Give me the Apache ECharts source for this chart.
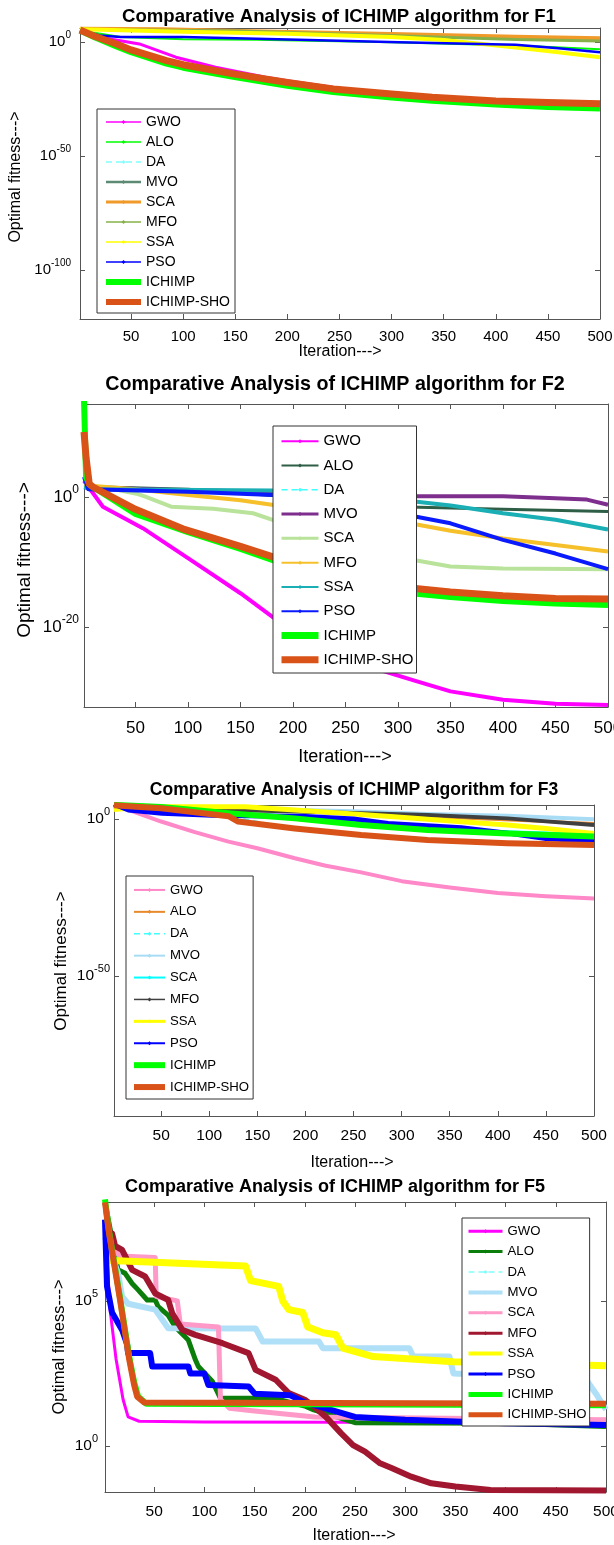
<!DOCTYPE html>
<html>
<head>
<meta charset="utf-8">
<title>Comparative Analysis of ICHIMP algorithm</title>
<script src="https://cdn.jsdelivr.net/npm/echarts@6/dist/echarts.min.js"></script>
<style>
  body { margin: 0; background: #fff; }
  .panel { position: absolute; left: 0; top: 0; width: 614px; height: 1545px; }
</style>
</head>
<body>
<div id="f1" class="panel"></div>
<div id="f2" class="panel"></div>
<div id="f3" class="panel"></div>
<div id="f5" class="panel"></div>
<script>
  const algoNames = ['GWO', 'ALO', 'DA', 'MVO', 'SCA', 'MFO', 'SSA', 'PSO', 'ICHIMP', 'ICHIMP-SHO']
  const iterTicks = [50, 100, 150, 200, 250, 300, 350, 400, 450, 500]

  // every curve point is [iteration, log10(optimal fitness)]

  // ---- F1 ----
  const f1Ticks = [-100, -50, 0]
  const f1GWO = [[1, 5.2], [20, 2], [58, -0.9], [93, -6.7], [131, -11.1], [179, -15.5], [200, -17], [250, -20.3], [300, -22.8], [350, -24.5], [400, -25.8], [450, -26.5], [500, -27]]
  const f1ALO = [[1, 5], [40, 2.2], [100, 1.2], [170, 0.9], [300, -0.2], [419, -1.6], [500, -3.2]]
  const f1DA = [[1, 5.6], [100, 5.4], [200, 4.4], [300, 3.3], [400, 2.4], [500, 1.7]]
  const f1MVO = [[1, 5.5], [100, 5.3], [200, 4.3], [300, 3.2], [400, 2.3], [500, 1.6]]
  const f1SCA = [[1, 5.8], [80, 5.6], [166, 4.7], [300, 3.5], [419, 2.3], [500, 1.6]]
  const f1MFO = [[1, 5.5], [150, 4.8], [250, 3.5], [350, 2], [419, 1.1], [500, 0.4]]
  const f1SSA = [[1, 5.6], [100, 4.5], [200, 3.6], [300, 2.2], [350, 0.8], [419, -2.5], [460, -4.5], [500, -6.7]]
  const f1PSO = [[1, 5], [20, 2.8], [40, 2.2], [100, 2.1], [211, 0.9], [307, -0.15], [419, -1.2], [460, -2.8], [500, -4.5]]
  const f1ICHIMP = [[1, 5], [15, 2], [36, -2], [50, -4.5], [84, -9.5], [100, -11.3], [148, -15.3], [200, -19.2], [244, -22], [300, -24.4], [339, -25.8], [400, -27.5], [450, -28.5], [500, -29.2]]
  const f1SHO = [[1, 5.2], [15, 2.5], [36, -0.9], [50, -3.5], [84, -8.2], [100, -10], [148, -14], [200, -17.8], [244, -20.6], [300, -22.8], [339, -24.3], [400, -25.9], [450, -26.6], [500, -27.1]]

  // ---- F2 ----
  const f2Ticks = [-20, 0]
  const f2GWO = [[1, 2.5], [19, -1.5], [57, -4.8], [100, -9.4], [150, -14.8], [200, -20.8], [250, -25], [315, -28.2], [350, -29.9], [400, -31.2], [450, -31.8], [500, -32]]
  const f2ALO = [[1, 1.6], [100, 1.2], [200, 0], [300, -1.5], [400, -1.9], [500, -2.25]]
  const f2DA = [[1, 1.8], [50, -1.9], [100, -5], [200, -10.2], [300, -13.8], [400, -15.2], [500, -15.7]]
  const f2MVO = [[1, 1.5], [100, 1], [200, 0.8], [300, 0.1], [400, 0.1], [450, -0.2], [480, -0.4], [500, -1.2]]
  const f2SCA = [[1, 1.9], [30, 1.2], [51, 0.5], [60, 0], [84, -1.5], [124, -1.8], [162, -2.5], [182, -3.6], [250, -7], [315, -9.7], [350, -10.7], [400, -11], [500, -11.1]]
  const f2MFO = [[1, 1.8], [50, 1.2], [100, 0.3], [150, -0.5], [193, -1.5], [250, -2.8], [310, -4], [350, -5.2], [400, -6.4], [450, -7.4], [500, -8.4]]
  const f2SSA = [[1, 1.5], [10, 1.2], [180, 1.0], [250, 0.5], [305, -0.5], [350, -1.3], [400, -2.5], [450, -3.5], [500, -5]]
  const f2PSO = [[1, 3.1], [5, 1.2], [100, 0.8], [200, 0.2], [260, -1.0], [310, -2.8], [350, -4.05], [400, -6.6], [450, -8.7], [500, -11.1]]
  const f2ICHIMP = [[1, 15], [3, 3], [7, 1.8], [50, -2.6], [100, -5.4], [150, -8], [200, -10.8], [250, -12.9], [300, -14.6], [350, -15.4], [400, -16], [450, -16.4], [500, -16.6]]
  const f2SHO = [[1, 10], [3, 6], [6, 2], [10, 1.5], [50, -1.9], [95, -4.9], [150, -7.6], [200, -10.2], [250, -12.2], [300, -13.8], [350, -14.6], [400, -15.2], [450, -15.6], [500, -15.7]]

  // ---- F3 ----
  const f3Ticks = [-50, 0]
  const f3GWO = [[1, 4], [16, 2.9], [50, -0.8], [85, -4.2], [120, -7.2], [150, -9.3], [189, -12.5], [220, -14.8], [258, -17], [300, -19.8], [350, -21.8], [400, -23.6], [450, -24.6], [500, -25.3]]
  const f3ALO = [[1, 4.4], [200, 2.3], [350, 0.5], [450, -0.8], [500, -1.4]]
  const f3DA = [[1, 4.4], [50, 3.4], [120, 0.9], [189, -3], [258, -5.1], [327, -6.7], [410, -7.7], [500, -8.3]]
  const f3MVO = [[1, 4.3], [100, 3.5], [250, 2.5], [327, 1.6], [410, 1.0], [500, -0.1]]
  const f3SCA = [[1, 4.4], [200, 0.5], [300, -2.5], [400, -4], [500, -4.9]]
  const f3MFO = [[1, 4.2], [100, 3], [200, 2.3], [327, 1.3], [410, 0.2], [500, -1.9]]
  const f3SSA = [[1, 3], [33, 3.9], [137, 3.9], [189, 2.9], [292, 0.7], [362, -0.9], [410, -1.9], [450, -3], [500, -4.6]]
  const f3PSO = [[1, 4.7], [16, 2.9], [51, 1.8], [103, 1.2], [200, 0.8], [250, 0], [286, -1.4], [362, -2.8], [410, -4.5], [450, -6.2], [500, -7.2]]
  const f3ICHIMP = [[1, 4.5], [50, 3.8], [120, 1.8], [189, 0.2], [258, -1.9], [327, -3.5], [410, -4.6], [500, -5.6]]
  const f3SHO = [[1, 4.4], [20, 4], [50, 3.4], [120, 0.9], [130, -0.8], [189, -3], [258, -5.1], [327, -6.7], [410, -7.7], [500, -8.3]]

  // ---- F5 ----
  const f5Ticks = [0, 5]
  const f5GWO = [[1, 8.3], [3, 6.5], [6, 4.7], [12, 3.0], [19, 1.6], [24, 1.0], [35, 0.85], [100, 0.82], [500, 0.8]]
  const f5ALO = [[1, 8.4], [14, 6.07], [21, 5.95], [28, 5.6], [34, 5.38], [43, 5.03], [51, 5.03], [54, 4.8], [64, 4.5], [71, 4.1], [84, 3.65], [91, 2.97], [94, 2.74], [108, 2.22], [116, 1.64], [170, 1.64], [201, 1.36], [209, 1.24], [250, 0.8], [400, 0.78], [500, 0.67]]
  const f5DA = [[1, 8.4], [16, 5.03], [33, 1.7], [40, 1.5], [500, 1.45]]
  const f5MVO = [[1, 7.2], [14, 5.95], [18, 5.15], [24, 4.9], [51, 4.7], [64, 4.06], [151, 4.05], [158, 3.6], [214, 3.6], [218, 3.37], [304, 3.37], [308, 3.08], [344, 3.08], [348, 2.5], [480, 2.3], [490, 1.8], [500, 1.25]]
  const f5SCA = [[1, 7.5], [15, 6.55], [51, 6.5], [52, 5.15], [73, 5.0], [76, 4.2], [114, 4.1], [116, 1.6], [125, 1.3], [150, 1.2], [210, 1.0], [500, 0.9]]
  const f5MFO = [[1, 7.45], [8, 7.33], [11, 6.9], [18, 6.76], [28, 6.07], [41, 5.84], [51, 5.26], [64, 5.03], [68, 4.57], [78, 4.0], [91, 3.83], [118, 3.54], [144, 3.2], [151, 2.62], [171, 2.28], [184, 1.82], [200, 1.59], [209, 1.36], [221, 1.0], [236, 0.44], [248, 0.03], [260, -0.2], [275, -0.6], [287, -0.77], [306, -1.06], [326, -1.29], [350, -1.4], [385, -1.52], [500, -1.54]]
  const f5SSA = [[1, 6.4], [141, 6.2], [146, 5.7], [174, 5.5], [178, 5.0], [184, 4.7], [198, 4.6], [203, 4.1], [218, 3.9], [231, 3.83], [238, 3.37], [268, 3.08], [348, 2.9], [414, 2.85], [500, 2.76]]
  const f5PSO = [[1, 7.8], [3, 5.5], [8, 4.6], [18, 4.0], [23, 3.5], [24, 3.2], [46, 3.2], [48, 2.74], [84, 2.74], [86, 2.5], [100, 2.5], [104, 2.1], [144, 2.05], [150, 1.8], [185, 1.75], [200, 1.5], [220, 1.3], [250, 1.0], [300, 0.9], [400, 0.78], [500, 0.72]]
  const f5ICHIMP = [[1, 8.5], [5, 7.4], [16, 5.1], [25, 3.1], [30, 2.2], [34, 1.7], [42, 1.45], [500, 1.4]]
  const f5SHO = [[1, 8.4], [5, 7.33], [16, 5.03], [25, 3.0], [30, 2.1], [33, 1.7], [40, 1.5], [500, 1.45]]

  const FONT = '"Liberation Sans", Arial, sans-serif'

  // page layout of the four panels (pixels), colours and line widths
  const panels = [
    {
      id: 'f1', title: 'Comparative Analysis of ICHIMP algorithm for F1',
      grid: [80, 28, 520, 291], yRange: [-121.5, 6.1], yTicks: f1Ticks,
      curves: [f1GWO, f1ALO, f1DA, f1MVO, f1SCA, f1MFO, f1SSA, f1PSO, f1ICHIMP, f1SHO],
      colors: ['#ff00ff', '#00ff00', '#80ffff', '#5c8a72', '#f09a2a', '#86b04a', '#ffff00', '#0000ff', '#00ff00', '#d95319'],
      widths: [3, 2, 1.5, 2, 4, 3, 4, 2.5, 6, 7],
      legendWidths: [1.5, 1.5, 1.5, 2.5, 3, 1.5, 1.5, 1.5, 6, 6],
      titlePos: [339, 17, 18.6], xName: [340, 352, 16], yName: [16, 177, 16],
      tickFont: 15, xMargin: 10, yMargin: 9,
      legend: { left: 97, top: 109, font: 14, itemWidth: 35, step: 20, padding: [3, 5, 1, 6] }
    },
    {
      id: 'f2', title: 'Comparative Analysis of ICHIMP algorithm for F2',
      grid: [84, 404, 524, 303], yRange: [-32.3, 14.3], yTicks: f2Ticks,
      curves: [f2GWO, f2ALO, f2DA, f2MVO, f2SCA, f2MFO, f2SSA, f2PSO, f2ICHIMP, f2SHO],
      colors: ['#ff00ff', '#2e5e46', '#40ffff', '#7e2f8e', '#b9e39a', '#f5c02a', '#1aaeb5', '#0a1aff', '#00ff00', '#d95319'],
      widths: [4, 3, 1.5, 4, 4, 4, 4, 4, 6, 7],
      legendWidths: [2, 2, 1.5, 3, 3, 2, 2, 2, 7, 7],
      titlePos: [335, 385, 19.7], xName: [345, 757, 18], yName: [25, 560, 19],
      tickFont: 17, xMargin: 13, yMargin: 5,
      legend: { left: 273, top: 426, font: 15, itemWidth: 37, step: 24.3, padding: [3, 3, 1, 5] }
    },
    {
      id: 'f3', title: 'Comparative Analysis of ICHIMP algorithm for F3',
      grid: [114, 805, 480, 311], yRange: [-94.6, 4.46], yTicks: f3Ticks,
      curves: [f3GWO, f3ALO, f3DA, f3MVO, f3SCA, f3MFO, f3SSA, f3PSO, f3ICHIMP, f3SHO],
      colors: ['#ff88c8', '#e8892c', '#40ffff', '#a8dcf5', '#00ffff', '#404040', '#ffff00', '#0000ff', '#00ff00', '#d95319'],
      widths: [4, 3, 1.5, 4, 3, 4, 5, 5, 6, 6],
      legendWidths: [2, 2, 1.5, 2, 2, 1.5, 3, 2, 6, 6],
      titlePos: [354, 790, 17.5], xName: [352, 1163, 16], yName: [61, 961, 17],
      tickFont: 15.5, xMargin: 12, yMargin: 4,
      legend: { left: 126, top: 876, font: 13.2, itemWidth: 31, step: 21.9, padding: [3, 4, 1, 5] }
    },
    {
      id: 'f5', title: 'Comparative Analysis of ICHIMP algorithm for F5',
      grid: [105, 1202, 501, 290], yRange: [-1.59, 8.41], yTicks: f5Ticks,
      curves: [f5GWO, f5ALO, f5DA, f5MVO, f5SCA, f5MFO, f5SSA, f5PSO, f5ICHIMP, f5SHO],
      colors: ['#ff00ff', '#0a7d0a', '#80ffff', '#b0e0f8', '#ff99c8', '#a0172f', '#ffff00', '#0000ff', '#00ff00', '#d95319'],
      widths: [3, 5, 1.5, 6, 5, 6, 7, 6, 6, 6],
      legendWidths: [3, 3, 1.5, 4, 3, 3, 4, 3, 5, 5],
      titlePos: [335, 1187, 18], xName: [354, 1536, 16], yName: [59, 1347, 16.5],
      tickFont: 15.5, xMargin: 12, yMargin: 7,
      legend: { left: 462, top: 1218, font: 13.2, itemWidth: 34, step: 20.4, padding: [3, 3, 1, 4] }
    }
  ]

  const axisColor = '#555'

  function buildOption (p) {
    const [gl, gt, gw, gh] = p.grid
    const supSize = Math.round(p.tickFont * 0.68)
    const tickStyle = { color: axisColor, width: 1 }
    const xAxisBase = {
      type: 'value', min: 1, max: 500,
      axisLine: { show: true, onZero: false, lineStyle: tickStyle },
      splitLine: { show: false }
    }
    const yAxisBase = {
      type: 'value', min: p.yRange[0], max: p.yRange[1],
      axisLine: { show: true, onZero: false, lineStyle: tickStyle },
      splitLine: { show: false }
    }
    return {
      animation: false,
      backgroundColor: 'transparent',
      textStyle: { fontFamily: FONT },
      graphic: [
        {
          type: 'text', x: p.titlePos[0], y: p.titlePos[1], silent: true,
          style: { text: p.title, fontSize: p.titlePos[2], fontWeight: 'bold', fontFamily: FONT, fill: '#000', textAlign: 'center', textVerticalAlign: 'middle' }
        },
        {
          type: 'text', x: p.xName[0], y: p.xName[1], silent: true,
          style: { text: 'Iteration--->', fontSize: p.xName[2], fontFamily: FONT, fill: '#000', textAlign: 'center', textVerticalAlign: 'middle' }
        },
        {
          type: 'text', x: p.yName[0], y: p.yName[1], rotation: Math.PI / 2, silent: true,
          style: { text: 'Optimal fitness--->', fontSize: p.yName[2], fontFamily: FONT, fill: '#000', textAlign: 'center', textVerticalAlign: 'middle' }
        }
      ],
      legend: {
        orient: 'vertical',
        left: p.legend.left, top: p.legend.top,
        padding: p.legend.padding,
        itemGap: 0,
        itemWidth: p.legend.itemWidth,
        itemHeight: 5,
        selectedMode: false,
        backgroundColor: '#fff',
        borderColor: '#333',
        borderWidth: 1,
        borderRadius: 0,
        textStyle: { fontSize: p.legend.font, lineHeight: p.legend.step, color: '#000', fontFamily: FONT },
        data: algoNames.map((name, i) => ({
          name: name,
          lineStyle: { width: p.legendWidths[i] },
          itemStyle: { opacity: i >= 8 ? 0 : 1 }
        }))
      },
      grid: { left: gl, top: gt, width: gw, height: gh, containLabel: false, outerBoundsMode: 'none' },
      xAxis: [
        Object.assign({}, xAxisBase, {
          position: 'bottom',
          axisTick: { inside: true, length: 5, customValues: iterTicks, lineStyle: tickStyle },
          axisLabel: { customValues: iterTicks, margin: p.xMargin, fontSize: p.tickFont, color: '#000', fontFamily: FONT }
        }),
        Object.assign({}, xAxisBase, {
          position: 'top',
          axisTick: { inside: true, length: 5, customValues: iterTicks, lineStyle: tickStyle },
          axisLabel: { show: false }
        })
      ],
      yAxis: [
        Object.assign({}, yAxisBase, {
          position: 'left',
          axisTick: { inside: true, length: 5, customValues: p.yTicks, lineStyle: tickStyle },
          axisLabel: {
            customValues: p.yTicks,
            margin: p.yMargin,
            formatter: (v) => '{b|10}{s|' + v + '}',
            rich: {
              b: { fontSize: p.tickFont, lineHeight: p.tickFont, color: '#000', fontFamily: FONT, verticalAlign: 'bottom' },
              s: { fontSize: supSize, lineHeight: supSize, color: '#000', fontFamily: FONT, verticalAlign: 'bottom', padding: [0, 0, Math.round(p.tickFont * 0.6), 0] }
            }
          }
        }),
        Object.assign({}, yAxisBase, {
          position: 'right',
          axisTick: { inside: true, length: 5, customValues: p.yTicks, lineStyle: tickStyle },
          axisLabel: { show: false }
        })
      ],
      series: p.curves.map((pts, i) => ({
        name: algoNames[i],
        type: 'line',
        data: pts,
        xAxisIndex: 0,
        yAxisIndex: 0,
        showSymbol: false,
        symbol: 'diamond',
        symbolSize: 4,
        silent: true,
        clip: true,
        itemStyle: { color: p.colors[i] },
        lineStyle: { color: p.colors[i], width: p.widths[i], type: algoNames[i] === 'DA' ? [6, 4] : 'solid', join: 'round' }
      }))
    }
  }

  panels.forEach((p) => {
    const chart = echarts.init(document.getElementById(p.id), null, { renderer: 'canvas' })
    chart.setOption(buildOption(p))
  })
</script>
</body>
</html>
